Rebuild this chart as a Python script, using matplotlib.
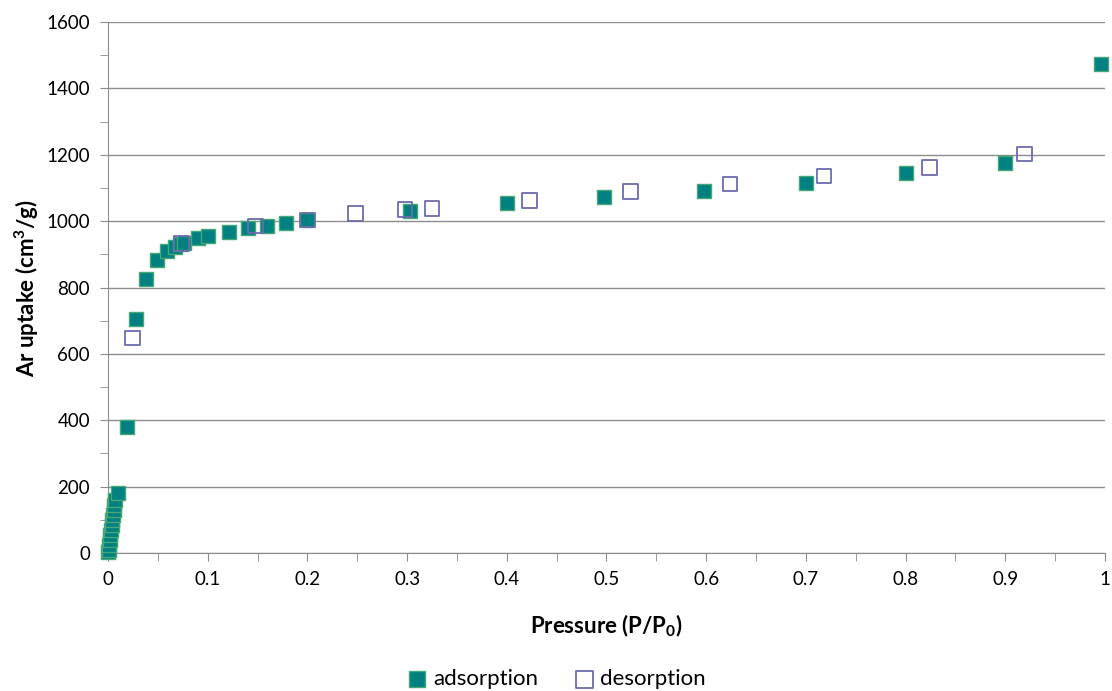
import numpy as np
import matplotlib.pyplot as plt
from matplotlib.ticker import MultipleLocator

plt.rcParams['font.family'] = ['Lato', 'DejaVu Sans']

# adsorption branch
ads_p = [0.0003, 0.0008, 0.0012, 0.0018, 0.0025, 0.003, 0.0037, 0.0045, 0.005,
         0.0058, 0.0065, 0.0072, 0.0100, 0.0187, 0.0277, 0.038, 0.049, 0.059,
         0.067, 0.072, 0.0765, 0.09, 0.1, 0.121, 0.14, 0.159, 0.179, 0.2,
         0.303, 0.4, 0.498, 0.598, 0.7, 0.8, 0.9, 0.996]
ads_v = [2, 10, 25, 40, 55, 70, 85, 100, 115,
         130, 145, 160, 180, 380, 704, 827, 882, 909,
         922, 930, 935, 950, 955, 968, 978, 986, 995, 1004,
         1032, 1054, 1072, 1090, 1116, 1144, 1176, 1473]

# desorption branch
des_p = [0.0247, 0.074, 0.148, 0.2, 0.248, 0.298, 0.325, 0.423, 0.524,
         0.624, 0.718, 0.824, 0.919]
des_v = [648, 933, 986, 1004, 1024, 1036, 1039, 1062, 1090,
         1112, 1136, 1162, 1202]

xlabels = ['0', '0.1', '0.2', '0.3', '0.4', '0.5', '0.6', '0.7', '0.8', '0.9', '1']

fig = plt.figure(figsize=(11.12, 6.91), dpi=100)
ax = fig.add_axes([0.0971, 0.1997, 0.8966, 0.7683])

ax.scatter(ads_p, ads_v, marker='s', s=110, facecolor='#008080',
           edgecolor='#45A878', linewidth=1.0, label='adsorption', zorder=3, clip_on=False)
ax.scatter(des_p, des_v, marker='s', s=110, facecolor='none',
           edgecolor='#6B6BAE', linewidth=1.3, label='desorption', zorder=4, clip_on=False)

ax.set_xlim(0, 1)
ax.set_ylim(0, 1600)
ax.set_xticks(np.arange(0, 1.01, 0.1))
ax.set_xticklabels(xlabels)
ax.xaxis.set_minor_locator(MultipleLocator(0.05))
ax.yaxis.set_major_locator(MultipleLocator(200))
ax.yaxis.set_minor_locator(MultipleLocator(100))

ax.yaxis.grid(True, which='major', color='#8c8c8c', linewidth=1.0)
ax.set_axisbelow(True)
for s in ['top', 'right']:
    ax.spines[s].set_visible(False)
for s in ['left', 'bottom']:
    ax.spines[s].set_color('#8c8c8c')
ax.tick_params(which='both', color='#8c8c8c', direction='out', labelsize=13.5)
ax.tick_params(which='major', length=6, pad=7)
ax.tick_params(which='minor', length=6)

ax.set_xlabel('Pressure (P/P$_\\mathregular{0}$)', fontsize=16, fontweight='bold', labelpad=18)
ax.set_ylabel('Ar uptake (cm$^\\mathregular{3}$/g)', fontsize=16, fontweight='bold', labelpad=4)

fig.legend(loc='lower center', bbox_to_anchor=(0.5, -0.026), ncol=2, frameon=False,
           fontsize=16, handletextpad=0.2, handlelength=1.0, columnspacing=1.6,
           markerscale=1.15)

fig.savefig('out.png', dpi=100)
